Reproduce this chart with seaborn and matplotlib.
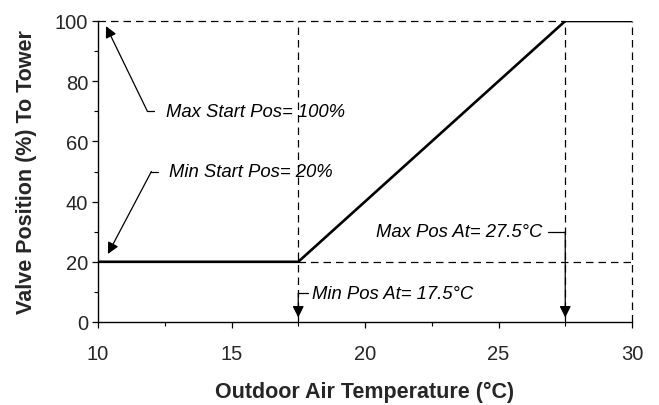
import matplotlib
matplotlib.use("Agg")
import matplotlib.pyplot as plt
import seaborn as sns
import pandas as pd
from matplotlib.ticker import MultipleLocator

# Valve reset schedule: position vs outdoor air temperature
temps = [10, 17.5, 27.5, 30]
positions = [20, 20, 100, 100]

min_start_pos = 20
max_start_pos = 100
min_pos_at = 17.5
max_pos_at = 27.5

xticks = [10, 15, 20, 25, 30]
yticks = [0, 20, 40, 60, 80, 100]

sns.set_style("ticks")
plt.rcParams["font.family"] = ["Liberation Sans", "DejaVu Sans"]

fig = plt.figure(figsize=(6.59, 4.06), dpi=100)
ax = fig.add_axes([98 / 659, 1 - 323 / 406, (632 - 98) / 659, (323 - 22) / 406])

df = pd.DataFrame({"temp": temps, "pos": positions})
sns.lineplot(data=df, x="temp", y="pos", ax=ax, color="black", linewidth=1.9,
             zorder=3)

dash = dict(color="black", linewidth=0.9, linestyle=(0, (6, 4)), zorder=2,
            clip_on=False)
ax.plot([10, max_pos_at], [max_start_pos, max_start_pos], **dash)
ax.plot([min_pos_at, min_pos_at], [0, max_start_pos], **dash)
ax.plot([min_pos_at, 30], [min_start_pos, min_start_pos], **dash)
ax.plot([max_pos_at, max_pos_at], [0, max_start_pos], **dash)
ax.plot([30, 30], [0, max_start_pos], **dash)

ax.set_xlim(10, 30)
ax.set_ylim(0, 100)
ax.set_xticks(xticks)
ax.set_yticks(yticks)
ax.xaxis.set_minor_locator(MultipleLocator(2.5))
ax.yaxis.set_minor_locator(MultipleLocator(10))
ax.tick_params(axis="both", which="major", labelsize=14.5, length=4, width=0.9,
               direction="out", color="black", pad=3)
ax.tick_params(axis="both", which="minor", length=3, width=0.8,
               direction="out", color="black")
ax.tick_params(axis="x", pad=12)

for side in ["top", "right"]:
    ax.spines[side].set_visible(False)
for side in ["left", "bottom"]:
    ax.spines[side].set_linewidth(1.0)
    ax.spines[side].set_color("black")

ax.set_xlabel("Outdoor Air Temperature (°C)", fontsize=15.5, fontweight="bold",
              labelpad=13)
ax.set_ylabel("Valve Position (%) To Tower", fontsize=15.5, fontweight="bold",
              labelpad=13)

note = dict(fontsize=13.3, fontstyle="italic", va="center", color="black")
arrow = dict(arrowstyle="-|>", color="black", lw=0.9, mutation_scale=17,
             shrinkA=0, shrinkB=0)
leader = dict(color="black", lw=0.9, clip_on=False)

# Max start position callout: short leader, then arrow up to the 100% corner
ax.text(12.55, 70, f"Max Start Pos= {max_start_pos}%", **note)
ax.plot([11.85, 12.1], [70, 70], **leader)
ax.annotate("", xy=(10.3, 98.3), xytext=(11.85, 70), arrowprops=arrow)

# Min start position callout: short leader, then arrow down to the 20% line
ax.text(12.65, 50, f"Min Start Pos= {min_start_pos}%", **note)
ax.plot([12.0, 12.25], [50, 50], **leader)
ax.annotate("", xy=(10.37, 22.6), xytext=(12.0, 50), arrowprops=arrow)

# Min position temperature callout
ax.text(18.0, 9.6, f"Min Pos At= {min_pos_at}°C", **note)
ax.plot([min_pos_at, 17.85], [9.6, 9.6], **leader)
ax.annotate("", xy=(min_pos_at, 1.5), xytext=(min_pos_at, 9.6),
            arrowprops=arrow)

# Max position temperature callout
ax.text(26.63, 30, f"Max Pos At= {max_pos_at}°C", ha="right", **note)
ax.plot([26.85, max_pos_at], [30, 30], **leader)
ax.annotate("", xy=(max_pos_at, 1.5), xytext=(max_pos_at, 30),
            arrowprops=arrow)

fig.savefig("out.png", dpi=100)
